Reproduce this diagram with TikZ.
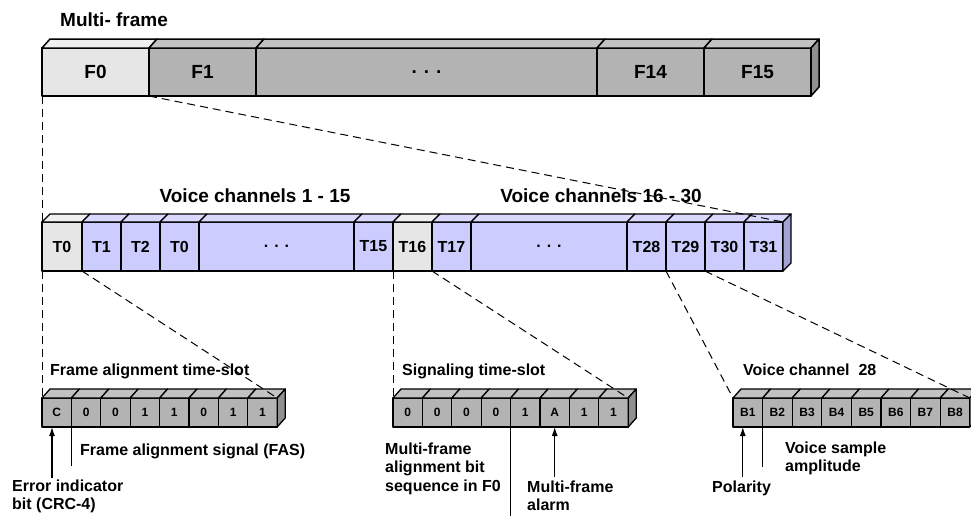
\documentclass[tikz,border=0pt]{standalone}
\usepackage{fontspec}
\setmainfont{Liberation Sans}
\usepackage{xcolor}
\usepackage{tikz}
\usetikzlibrary{shapes,arrows,arrows.meta,positioning}
\definecolor{lightslot}{HTML}{E6E6E6}
\definecolor{lighttop}{HTML}{EFEFEF}
\definecolor{graycell}{HTML}{B3B3B3}
\definecolor{graytop}{HTML}{C2C2C2}
\definecolor{grayside}{HTML}{909090}
\definecolor{voicecell}{HTML}{CCCCFF}
\definecolor{voicetop}{HTML}{D9D9FF}
\definecolor{voiceside}{HTML}{A3A3D4}
\tikzset{
    fcell/.style={rectangle, draw, line width=1.5pt, fill=graycell, minimum width=107pt, minimum height=48pt, inner sep=0pt, outer sep=0pt, font=\fontsize{19}{22}\selectfont\bfseries},
    tcell/.style={rectangle, draw, line width=1.3pt, fill=voicecell, minimum width=39pt, minimum height=49pt, inner sep=0pt, outer sep=0pt, font=\fontsize{16}{19}\selectfont\bfseries},
    bcell/.style={rectangle, draw, line width=1.3pt, fill=graycell, minimum width=29.4pt, minimum height=29pt, inner sep=0pt, outer sep=0pt, font=\fontsize{12}{14}\selectfont\bfseries},
    head/.style={inner sep=0pt, font=\fontsize{19}{22}\selectfont\bfseries},
    note/.style={inner sep=0pt, align=left, font=\fontsize{16}{18.5}\selectfont\bfseries},
    zoomline/.style={draw, line width=1pt, dash pattern=on 8pt off 5pt},
    ptr/.style={draw, -{Latex[length=9pt,width=6pt]}, line width=1.2pt},
    tick/.style={draw, line width=1.2pt}
}

\begin{document}
\begin{tikzpicture}[x=1pt, y=-1pt, line join=round]
    \useasboundingbox (0,0) rectangle (971,515);

    % multi-frame
    \node[head, anchor=base west] (mftitle) at (60,26) {Multi- frame};
    \node[fcell, fill=lightslot, anchor=north west] (f0) at (42,48) {F0};
    \node[fcell, right=0pt of f0] (f1) {F1};
    \node[fcell, right=0pt of f1, minimum width=341pt] (fdots) {. . .};
    \node[fcell, right=0pt of fdots] (f14) {F14};
    \node[fcell, right=0pt of f14] (f15) {F15};
    \foreach \n/\c in {f0/lighttop,f1/graytop,fdots/graytop,f14/graytop,f15/graytop}
        \draw[line width=1.5pt, fill=\c] (\n.north west) -- ++(8,-9) -- ([shift={(8,-9)}]\n.north east) -- (\n.north east) -- cycle;
    \draw[line width=1.5pt, fill=grayside] (f15.north east) -- ++(8,-9) -- ++(0,48) -- (f15.south east) -- cycle;

    % time-slots
    \node[head, anchor=base] (lowtitle) at (255,202) {Voice channels 1 - 15};
    \node[head, anchor=base] (hightitle) at (601,202) {Voice channels 16 - 30};
    \node[tcell, fill=lightslot, minimum width=40pt, anchor=north west] (t0) at (42,222) {T0};
    \node[tcell, right=0pt of t0] (t1) {T1};
    \node[tcell, right=0pt of t1] (t2) {T2};
    \node[tcell, right=0pt of t2] (t0b) {T0};
    \node[tcell, right=0pt of t0b, minimum width=155pt] (tdotsa) {. . .};
    \node[tcell, right=0pt of tdotsa] (t15) {T15};
    \node[tcell, fill=lightslot, right=0pt of t15] (t16) {T16};
    \node[tcell, right=0pt of t16] (t17) {T17};
    \node[tcell, right=0pt of t17, minimum width=156pt] (tdotsb) {. . .};
    \node[tcell, right=0pt of tdotsb] (t28) {T28};
    \node[tcell, right=0pt of t28] (t29) {T29};
    \node[tcell, right=0pt of t29] (t30) {T30};
    \node[tcell, right=0pt of t30] (t31) {T31};
    \foreach \n/\c in {t0/lighttop,t1/voicetop,t2/voicetop,t0b/voicetop,tdotsa/voicetop,t15/voicetop,t16/lighttop,t17/voicetop,tdotsb/voicetop,t28/voicetop,t29/voicetop,t30/voicetop,t31/voicetop}
        \draw[line width=1.3pt, fill=\c] (\n.north west) -- ++(8,-8) -- ([shift={(8,-8)}]\n.north east) -- (\n.north east) -- cycle;
    \draw[line width=1.3pt, fill=voiceside] (t31.north east) -- ++(8,-8) -- ++(0,49) -- (t31.south east) -- cycle;

    % frame alignment time-slot
    \node[note, anchor=base west] (fastitle) at (50,375) {Frame alignment time-slot};
    \node[bcell, anchor=north west] (fas1) at (42,398) {C};
    \foreach \b [count=\i from 2, remember=\i as \j (initially 1)] in {0,0,1,1,0,1,1}
        \node[bcell, right=0pt of fas\j] (fas\i) {\b};

    % signaling time-slot
    \node[note, anchor=base west] (sigtitle) at (402,375) {Signaling time-slot};
    \node[bcell, anchor=north west] (sig1) at (393,398) {0};
    \foreach \b [count=\i from 2, remember=\i as \j (initially 1)] in {0,0,0,1,A,1,1}
        \node[bcell, right=0pt of sig\j] (sig\i) {\b};

    % voice channel 28
    \node[note, anchor=base west] (vbtitle) at (743,375) {Voice channel~ 28};
    \node[bcell, minimum width=29.6pt, anchor=north west] (vb1) at (733,398) {B1};
    \foreach \i [remember=\i as \j (initially 1)] in {2,...,8}
        \node[bcell, minimum width=29.6pt, right=0pt of vb\j] (vb\i) {B\i};

    \foreach \r in {fas,sig,vb} {
        \foreach \i in {1,...,8}
            \draw[line width=1.3pt, fill=graytop] (\r\i.north west) -- ++(8,-9) -- ([shift={(8,-9)}]\r\i.north east) -- (\r\i.north east) -- cycle;
        \draw[line width=1.3pt, fill=grayside] (\r8.north east) -- ++(8,-9) -- ++(0,29) -- (\r8.south east) -- cycle;
    }

    % notes under the bits
    \node[note, anchor=base west] (fasnote) at (80,455) {Frame alignment signal (FAS)};
    \node[note, anchor=north west] (crcnote) at (12,479.5) {Error indicator\\bit (CRC-4)};
    \node[note, anchor=north west] (mfanote) at (385,442.5) {Multi-frame\\alignment bit\\sequence in F0};
    \node[note, anchor=north west] (alarmnote) at (527,480.5) {Multi-frame\\alarm};
    \node[note, anchor=north west] (ampnote) at (785,441.5) {Voice sample\\amplitude};
    \node[note, anchor=base west] (polnote) at (712,492) {Polarity};

    \coordinate (crcfoot) at ([xshift=-4.7pt, yshift=-51pt]fas1.south);
    \draw[ptr] (crcfoot) -- (crcfoot |- fas1.south);
    \coordinate (fasfoot) at ([yshift=-39pt]fas1.south east);
    \draw[tick] (fas1.south east) -- (fasfoot);
    \coordinate (mfafoot) at ([yshift=-90pt]sig4.south east);
    \draw[tick] (sig4.south east) -- (mfafoot);
    \coordinate (alarmfoot) at ([yshift=-50pt]sig6.south);
    \draw[ptr] (alarmfoot) -- (sig6.south);
    \coordinate (polfoot) at ([xshift=-5pt, yshift=-50pt]vb1.south);
    \draw[ptr] (polfoot) -- (polfoot |- vb1.south);
    \coordinate (ampfoot) at ([yshift=-40pt]vb1.south east);
    \draw[tick] (vb1.south east) -- (ampfoot);

    % zoom lines
    \draw[zoomline] (f0.south west) -- (t0.north west);
    \draw[zoomline] (f0.south east) -- (t31.north east);
    \draw[zoomline] (t0.south west) -- (fas1.north west);
    \draw[zoomline] (t0.south east) -- (fas8.north east);
    \draw[zoomline] (t16.south west) -- (sig1.north west);
    \draw[zoomline] (t16.south east) -- (sig8.north east);
    \draw[zoomline] (t29.south west) -- (vb1.north west);
    \draw[zoomline] (t29.south east) -- (vb8.north east);
\end{tikzpicture}
\end{document}
